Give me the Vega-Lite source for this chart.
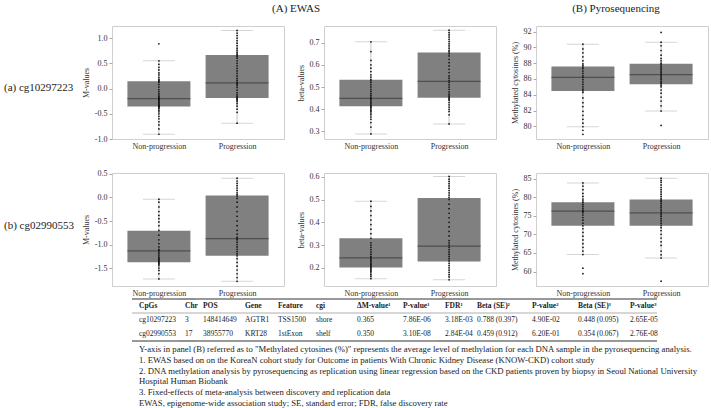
{
"$schema":"https://vega.github.io/schema/vega-lite/v6.json",
"padding":{"left":4,"top":2,"right":0,"bottom":0},
"background":"white",
"config":{
 "font":"Liberation Serif",
 "view":{"stroke":null},
 "axis":{"grid":false,"domain":false,"labelOverlap":false,"labelFontSize":8,"titleFontSize":8,"titleFontWeight":"normal","labelColor":"#333","titleColor":"#333","tickColor":"#aaa","tickSize":3,"labelPadding":2,"titlePadding":4},
 "axisX":{"ticks":false,"labelPadding":3,"labelAngle":0},
 "title":{"fontSize":11,"fontWeight":"normal","color":"#222","frame":"group","offset":12},
 "text":{"color":"#222"}
},
"datasets":{
"box":[
{"p":"a1","g":"Non-progression","lo":-0.906,"q1":-0.354,"med":-0.2,"q3":0.146,"hi":0.553},
{"p":"a1","g":"Progression","lo":-0.687,"q1":-0.187,"med":0.113,"q3":0.667,"hi":1.153},
{"p":"a2","g":"Non-progression","lo":0.289,"q1":0.413,"med":0.449,"q3":0.533,"hi":0.704},
{"p":"a2","g":"Progression","lo":0.334,"q1":0.452,"med":0.526,"q3":0.656,"hi":0.756},
{"p":"a3","g":"Non-progression","lo":79.95,"q1":84.49,"med":86.21,"q3":87.56,"hi":90.4},
{"p":"a3","g":"Progression","lo":81.93,"q1":85.33,"med":86.54,"q3":87.93,"hi":90.65},
{"p":"b1","g":"Non-progression","lo":-1.73,"q1":-1.375,"med":-1.134,"q3":-0.709,"hi":-0.035},
{"p":"b1","g":"Progression","lo":-1.78,"q1":-1.24,"med":-0.872,"q3":0.043,"hi":0.41},
{"p":"b2","g":"Non-progression","lo":0.152,"q1":0.201,"med":0.244,"q3":0.33,"hi":0.493},
{"p":"b2","g":"Progression","lo":0.147,"q1":0.228,"med":0.295,"q3":0.507,"hi":0.602},
{"p":"b3","g":"Non-progression","lo":64.57,"q1":72.28,"med":76.24,"q3":78.66,"hi":83.84},
{"p":"b3","g":"Progression","lo":63.6,"q1":72.28,"med":75.78,"q3":79.35,"hi":85.1}
],
"pts":[
{"p":"a1","g":"Non-progression","v":0.886},{"p":"a1","g":"Non-progression","v":0.55},{"p":"a1","g":"Non-progression","v":0.48},{"p":"a1","g":"Non-progression","v":0.42},{"p":"a1","g":"Non-progression","v":0.37},{"p":"a1","g":"Non-progression","v":0.31},{"p":"a1","g":"Non-progression","v":0.27},{"p":"a1","g":"Non-progression","v":0.22},{"p":"a1","g":"Non-progression","v":0.18},{"p":"a1","g":"Non-progression","v":0.16},{"p":"a1","g":"Non-progression","v":0.14},{"p":"a1","g":"Non-progression","v":0.12},{"p":"a1","g":"Non-progression","v":0.08},{"p":"a1","g":"Non-progression","v":0.03},{"p":"a1","g":"Non-progression","v":-0.02},{"p":"a1","g":"Non-progression","v":-0.06},{"p":"a1","g":"Non-progression","v":-0.1},{"p":"a1","g":"Non-progression","v":-0.13},{"p":"a1","g":"Non-progression","v":-0.16},{"p":"a1","g":"Non-progression","v":-0.18},{"p":"a1","g":"Non-progression","v":-0.2},{"p":"a1","g":"Non-progression","v":-0.21},{"p":"a1","g":"Non-progression","v":-0.23},{"p":"a1","g":"Non-progression","v":-0.25},{"p":"a1","g":"Non-progression","v":-0.27},{"p":"a1","g":"Non-progression","v":-0.29},{"p":"a1","g":"Non-progression","v":-0.31},{"p":"a1","g":"Non-progression","v":-0.33},{"p":"a1","g":"Non-progression","v":-0.34},{"p":"a1","g":"Non-progression","v":-0.35},{"p":"a1","g":"Non-progression","v":-0.36},{"p":"a1","g":"Non-progression","v":-0.38},{"p":"a1","g":"Non-progression","v":-0.4},{"p":"a1","g":"Non-progression","v":-0.43},{"p":"a1","g":"Non-progression","v":-0.46},{"p":"a1","g":"Non-progression","v":-0.5},{"p":"a1","g":"Non-progression","v":-0.55},{"p":"a1","g":"Non-progression","v":-0.6},{"p":"a1","g":"Non-progression","v":-0.66},{"p":"a1","g":"Non-progression","v":-0.72},{"p":"a1","g":"Non-progression","v":-0.8},{"p":"a1","g":"Non-progression","v":-0.906},
{"p":"a1","g":"Progression","v":1.153},{"p":"a1","g":"Progression","v":1.1},{"p":"a1","g":"Progression","v":1.05},{"p":"a1","g":"Progression","v":1.0},{"p":"a1","g":"Progression","v":0.95},{"p":"a1","g":"Progression","v":0.9},{"p":"a1","g":"Progression","v":0.85},{"p":"a1","g":"Progression","v":0.8},{"p":"a1","g":"Progression","v":0.76},{"p":"a1","g":"Progression","v":0.72},{"p":"a1","g":"Progression","v":0.69},{"p":"a1","g":"Progression","v":0.67},{"p":"a1","g":"Progression","v":0.65},{"p":"a1","g":"Progression","v":0.63},{"p":"a1","g":"Progression","v":0.6},{"p":"a1","g":"Progression","v":0.55},{"p":"a1","g":"Progression","v":0.5},{"p":"a1","g":"Progression","v":0.45},{"p":"a1","g":"Progression","v":0.4},{"p":"a1","g":"Progression","v":0.35},{"p":"a1","g":"Progression","v":0.3},{"p":"a1","g":"Progression","v":0.25},{"p":"a1","g":"Progression","v":0.2},{"p":"a1","g":"Progression","v":0.16},{"p":"a1","g":"Progression","v":0.13},{"p":"a1","g":"Progression","v":0.11},{"p":"a1","g":"Progression","v":0.09},{"p":"a1","g":"Progression","v":0.06},{"p":"a1","g":"Progression","v":0.02},{"p":"a1","g":"Progression","v":-0.03},{"p":"a1","g":"Progression","v":-0.08},{"p":"a1","g":"Progression","v":-0.12},{"p":"a1","g":"Progression","v":-0.15},{"p":"a1","g":"Progression","v":-0.17},{"p":"a1","g":"Progression","v":-0.19},{"p":"a1","g":"Progression","v":-0.21},{"p":"a1","g":"Progression","v":-0.23},{"p":"a1","g":"Progression","v":-0.26},{"p":"a1","g":"Progression","v":-0.3},{"p":"a1","g":"Progression","v":-0.35},{"p":"a1","g":"Progression","v":-0.41},{"p":"a1","g":"Progression","v":-0.47},{"p":"a1","g":"Progression","v":-0.687},
{"p":"a2","g":"Non-progression","v":0.704},{"p":"a2","g":"Non-progression","v":0.66},{"p":"a2","g":"Non-progression","v":0.62},{"p":"a2","g":"Non-progression","v":0.6},{"p":"a2","g":"Non-progression","v":0.585},{"p":"a2","g":"Non-progression","v":0.57},{"p":"a2","g":"Non-progression","v":0.555},{"p":"a2","g":"Non-progression","v":0.545},{"p":"a2","g":"Non-progression","v":0.535},{"p":"a2","g":"Non-progression","v":0.528},{"p":"a2","g":"Non-progression","v":0.52},{"p":"a2","g":"Non-progression","v":0.51},{"p":"a2","g":"Non-progression","v":0.5},{"p":"a2","g":"Non-progression","v":0.49},{"p":"a2","g":"Non-progression","v":0.48},{"p":"a2","g":"Non-progression","v":0.47},{"p":"a2","g":"Non-progression","v":0.462},{"p":"a2","g":"Non-progression","v":0.455},{"p":"a2","g":"Non-progression","v":0.449},{"p":"a2","g":"Non-progression","v":0.443},{"p":"a2","g":"Non-progression","v":0.437},{"p":"a2","g":"Non-progression","v":0.43},{"p":"a2","g":"Non-progression","v":0.424},{"p":"a2","g":"Non-progression","v":0.418},{"p":"a2","g":"Non-progression","v":0.413},{"p":"a2","g":"Non-progression","v":0.408},{"p":"a2","g":"Non-progression","v":0.402},{"p":"a2","g":"Non-progression","v":0.396},{"p":"a2","g":"Non-progression","v":0.39},{"p":"a2","g":"Non-progression","v":0.383},{"p":"a2","g":"Non-progression","v":0.375},{"p":"a2","g":"Non-progression","v":0.365},{"p":"a2","g":"Non-progression","v":0.355},{"p":"a2","g":"Non-progression","v":0.34},{"p":"a2","g":"Non-progression","v":0.32},{"p":"a2","g":"Non-progression","v":0.289},
{"p":"a2","g":"Progression","v":0.756},{"p":"a2","g":"Progression","v":0.745},{"p":"a2","g":"Progression","v":0.735},{"p":"a2","g":"Progression","v":0.725},{"p":"a2","g":"Progression","v":0.715},{"p":"a2","g":"Progression","v":0.705},{"p":"a2","g":"Progression","v":0.695},{"p":"a2","g":"Progression","v":0.685},{"p":"a2","g":"Progression","v":0.675},{"p":"a2","g":"Progression","v":0.665},{"p":"a2","g":"Progression","v":0.658},{"p":"a2","g":"Progression","v":0.65},{"p":"a2","g":"Progression","v":0.64},{"p":"a2","g":"Progression","v":0.625},{"p":"a2","g":"Progression","v":0.61},{"p":"a2","g":"Progression","v":0.595},{"p":"a2","g":"Progression","v":0.58},{"p":"a2","g":"Progression","v":0.565},{"p":"a2","g":"Progression","v":0.55},{"p":"a2","g":"Progression","v":0.54},{"p":"a2","g":"Progression","v":0.53},{"p":"a2","g":"Progression","v":0.52},{"p":"a2","g":"Progression","v":0.51},{"p":"a2","g":"Progression","v":0.5},{"p":"a2","g":"Progression","v":0.49},{"p":"a2","g":"Progression","v":0.478},{"p":"a2","g":"Progression","v":0.468},{"p":"a2","g":"Progression","v":0.46},{"p":"a2","g":"Progression","v":0.455},{"p":"a2","g":"Progression","v":0.45},{"p":"a2","g":"Progression","v":0.445},{"p":"a2","g":"Progression","v":0.44},{"p":"a2","g":"Progression","v":0.43},{"p":"a2","g":"Progression","v":0.42},{"p":"a2","g":"Progression","v":0.41},{"p":"a2","g":"Progression","v":0.4},{"p":"a2","g":"Progression","v":0.39},{"p":"a2","g":"Progression","v":0.375},{"p":"a2","g":"Progression","v":0.334},
{"p":"a3","g":"Non-progression","v":90.4},{"p":"a3","g":"Non-progression","v":89.8},{"p":"a3","g":"Non-progression","v":89.3},{"p":"a3","g":"Non-progression","v":88.8},{"p":"a3","g":"Non-progression","v":88.3},{"p":"a3","g":"Non-progression","v":87.9},{"p":"a3","g":"Non-progression","v":87.7},{"p":"a3","g":"Non-progression","v":87.5},{"p":"a3","g":"Non-progression","v":87.3},{"p":"a3","g":"Non-progression","v":87.0},{"p":"a3","g":"Non-progression","v":86.7},{"p":"a3","g":"Non-progression","v":86.4},{"p":"a3","g":"Non-progression","v":86.2},{"p":"a3","g":"Non-progression","v":85.9},{"p":"a3","g":"Non-progression","v":85.6},{"p":"a3","g":"Non-progression","v":85.3},{"p":"a3","g":"Non-progression","v":85.0},{"p":"a3","g":"Non-progression","v":84.7},{"p":"a3","g":"Non-progression","v":84.5},{"p":"a3","g":"Non-progression","v":84.3},{"p":"a3","g":"Non-progression","v":83.6},{"p":"a3","g":"Non-progression","v":83.0},{"p":"a3","g":"Non-progression","v":82.5},{"p":"a3","g":"Non-progression","v":81.9},{"p":"a3","g":"Non-progression","v":81.4},{"p":"a3","g":"Non-progression","v":80.9},{"p":"a3","g":"Non-progression","v":80.4},{"p":"a3","g":"Non-progression","v":79.95},{"p":"a3","g":"Non-progression","v":79.5},{"p":"a3","g":"Non-progression","v":79.0},
{"p":"a3","g":"Progression","v":91.88},{"p":"a3","g":"Progression","v":90.65},{"p":"a3","g":"Progression","v":90.2},{"p":"a3","g":"Progression","v":89.6},{"p":"a3","g":"Progression","v":89.0},{"p":"a3","g":"Progression","v":88.6},{"p":"a3","g":"Progression","v":88.3},{"p":"a3","g":"Progression","v":88.0},{"p":"a3","g":"Progression","v":87.8},{"p":"a3","g":"Progression","v":87.6},{"p":"a3","g":"Progression","v":87.4},{"p":"a3","g":"Progression","v":87.2},{"p":"a3","g":"Progression","v":87.0},{"p":"a3","g":"Progression","v":86.8},{"p":"a3","g":"Progression","v":86.6},{"p":"a3","g":"Progression","v":86.5},{"p":"a3","g":"Progression","v":86.3},{"p":"a3","g":"Progression","v":86.1},{"p":"a3","g":"Progression","v":85.9},{"p":"a3","g":"Progression","v":85.7},{"p":"a3","g":"Progression","v":85.5},{"p":"a3","g":"Progression","v":85.4},{"p":"a3","g":"Progression","v":85.2},{"p":"a3","g":"Progression","v":85.0},{"p":"a3","g":"Progression","v":84.6},{"p":"a3","g":"Progression","v":84.2},{"p":"a3","g":"Progression","v":83.7},{"p":"a3","g":"Progression","v":83.2},{"p":"a3","g":"Progression","v":82.6},{"p":"a3","g":"Progression","v":81.93},{"p":"a3","g":"Progression","v":80.12},
{"p":"b1","g":"Non-progression","v":-0.035},{"p":"b1","g":"Non-progression","v":-0.1},{"p":"b1","g":"Non-progression","v":-0.2},{"p":"b1","g":"Non-progression","v":-0.3},{"p":"b1","g":"Non-progression","v":-0.38},{"p":"b1","g":"Non-progression","v":-0.45},{"p":"b1","g":"Non-progression","v":-0.52},{"p":"b1","g":"Non-progression","v":-0.6},{"p":"b1","g":"Non-progression","v":-0.7},{"p":"b1","g":"Non-progression","v":-0.8},{"p":"b1","g":"Non-progression","v":-0.9},{"p":"b1","g":"Non-progression","v":-0.98},{"p":"b1","g":"Non-progression","v":-1.05},{"p":"b1","g":"Non-progression","v":-1.1},{"p":"b1","g":"Non-progression","v":-1.13},{"p":"b1","g":"Non-progression","v":-1.16},{"p":"b1","g":"Non-progression","v":-1.2},{"p":"b1","g":"Non-progression","v":-1.24},{"p":"b1","g":"Non-progression","v":-1.27},{"p":"b1","g":"Non-progression","v":-1.3},{"p":"b1","g":"Non-progression","v":-1.32},{"p":"b1","g":"Non-progression","v":-1.34},{"p":"b1","g":"Non-progression","v":-1.36},{"p":"b1","g":"Non-progression","v":-1.38},{"p":"b1","g":"Non-progression","v":-1.4},{"p":"b1","g":"Non-progression","v":-1.42},{"p":"b1","g":"Non-progression","v":-1.45},{"p":"b1","g":"Non-progression","v":-1.5},{"p":"b1","g":"Non-progression","v":-1.55},{"p":"b1","g":"Non-progression","v":-1.62},{"p":"b1","g":"Non-progression","v":-1.73},
{"p":"b1","g":"Progression","v":0.41},{"p":"b1","g":"Progression","v":0.35},{"p":"b1","g":"Progression","v":0.3},{"p":"b1","g":"Progression","v":0.25},{"p":"b1","g":"Progression","v":0.2},{"p":"b1","g":"Progression","v":0.15},{"p":"b1","g":"Progression","v":0.1},{"p":"b1","g":"Progression","v":0.06},{"p":"b1","g":"Progression","v":0.03},{"p":"b1","g":"Progression","v":-0.02},{"p":"b1","g":"Progression","v":-0.1},{"p":"b1","g":"Progression","v":-0.2},{"p":"b1","g":"Progression","v":-0.3},{"p":"b1","g":"Progression","v":-0.4},{"p":"b1","g":"Progression","v":-0.5},{"p":"b1","g":"Progression","v":-0.6},{"p":"b1","g":"Progression","v":-0.7},{"p":"b1","g":"Progression","v":-0.78},{"p":"b1","g":"Progression","v":-0.84},{"p":"b1","g":"Progression","v":-0.87},{"p":"b1","g":"Progression","v":-0.9},{"p":"b1","g":"Progression","v":-0.95},{"p":"b1","g":"Progression","v":-1.0},{"p":"b1","g":"Progression","v":-1.05},{"p":"b1","g":"Progression","v":-1.1},{"p":"b1","g":"Progression","v":-1.15},{"p":"b1","g":"Progression","v":-1.2},{"p":"b1","g":"Progression","v":-1.24},{"p":"b1","g":"Progression","v":-1.3},{"p":"b1","g":"Progression","v":-1.38},{"p":"b1","g":"Progression","v":-1.46},{"p":"b1","g":"Progression","v":-1.54},{"p":"b1","g":"Progression","v":-1.62},{"p":"b1","g":"Progression","v":-1.7},{"p":"b1","g":"Progression","v":-1.78},
{"p":"b2","g":"Non-progression","v":0.493},{"p":"b2","g":"Non-progression","v":0.47},{"p":"b2","g":"Non-progression","v":0.45},{"p":"b2","g":"Non-progression","v":0.43},{"p":"b2","g":"Non-progression","v":0.41},{"p":"b2","g":"Non-progression","v":0.39},{"p":"b2","g":"Non-progression","v":0.37},{"p":"b2","g":"Non-progression","v":0.35},{"p":"b2","g":"Non-progression","v":0.33},{"p":"b2","g":"Non-progression","v":0.31},{"p":"b2","g":"Non-progression","v":0.3},{"p":"b2","g":"Non-progression","v":0.29},{"p":"b2","g":"Non-progression","v":0.28},{"p":"b2","g":"Non-progression","v":0.27},{"p":"b2","g":"Non-progression","v":0.26},{"p":"b2","g":"Non-progression","v":0.25},{"p":"b2","g":"Non-progression","v":0.244},{"p":"b2","g":"Non-progression","v":0.238},{"p":"b2","g":"Non-progression","v":0.232},{"p":"b2","g":"Non-progression","v":0.226},{"p":"b2","g":"Non-progression","v":0.22},{"p":"b2","g":"Non-progression","v":0.215},{"p":"b2","g":"Non-progression","v":0.21},{"p":"b2","g":"Non-progression","v":0.205},{"p":"b2","g":"Non-progression","v":0.2},{"p":"b2","g":"Non-progression","v":0.195},{"p":"b2","g":"Non-progression","v":0.19},{"p":"b2","g":"Non-progression","v":0.185},{"p":"b2","g":"Non-progression","v":0.178},{"p":"b2","g":"Non-progression","v":0.17},{"p":"b2","g":"Non-progression","v":0.162},{"p":"b2","g":"Non-progression","v":0.152},
{"p":"b2","g":"Progression","v":0.602},{"p":"b2","g":"Progression","v":0.59},{"p":"b2","g":"Progression","v":0.58},{"p":"b2","g":"Progression","v":0.57},{"p":"b2","g":"Progression","v":0.56},{"p":"b2","g":"Progression","v":0.55},{"p":"b2","g":"Progression","v":0.54},{"p":"b2","g":"Progression","v":0.53},{"p":"b2","g":"Progression","v":0.52},{"p":"b2","g":"Progression","v":0.51},{"p":"b2","g":"Progression","v":0.5},{"p":"b2","g":"Progression","v":0.48},{"p":"b2","g":"Progression","v":0.46},{"p":"b2","g":"Progression","v":0.44},{"p":"b2","g":"Progression","v":0.42},{"p":"b2","g":"Progression","v":0.4},{"p":"b2","g":"Progression","v":0.38},{"p":"b2","g":"Progression","v":0.36},{"p":"b2","g":"Progression","v":0.34},{"p":"b2","g":"Progression","v":0.32},{"p":"b2","g":"Progression","v":0.31},{"p":"b2","g":"Progression","v":0.3},{"p":"b2","g":"Progression","v":0.29},{"p":"b2","g":"Progression","v":0.28},{"p":"b2","g":"Progression","v":0.27},{"p":"b2","g":"Progression","v":0.26},{"p":"b2","g":"Progression","v":0.25},{"p":"b2","g":"Progression","v":0.24},{"p":"b2","g":"Progression","v":0.23},{"p":"b2","g":"Progression","v":0.22},{"p":"b2","g":"Progression","v":0.21},{"p":"b2","g":"Progression","v":0.2},{"p":"b2","g":"Progression","v":0.19},{"p":"b2","g":"Progression","v":0.18},{"p":"b2","g":"Progression","v":0.17},{"p":"b2","g":"Progression","v":0.16},{"p":"b2","g":"Progression","v":0.147},
{"p":"b3","g":"Non-progression","v":83.84},{"p":"b3","g":"Non-progression","v":83.0},{"p":"b3","g":"Non-progression","v":82.0},{"p":"b3","g":"Non-progression","v":81.0},{"p":"b3","g":"Non-progression","v":80.2},{"p":"b3","g":"Non-progression","v":79.5},{"p":"b3","g":"Non-progression","v":79.0},{"p":"b3","g":"Non-progression","v":78.5},{"p":"b3","g":"Non-progression","v":78.0},{"p":"b3","g":"Non-progression","v":77.5},{"p":"b3","g":"Non-progression","v":77.0},{"p":"b3","g":"Non-progression","v":76.5},{"p":"b3","g":"Non-progression","v":76.2},{"p":"b3","g":"Non-progression","v":75.8},{"p":"b3","g":"Non-progression","v":75.2},{"p":"b3","g":"Non-progression","v":74.5},{"p":"b3","g":"Non-progression","v":73.8},{"p":"b3","g":"Non-progression","v":73.0},{"p":"b3","g":"Non-progression","v":72.3},{"p":"b3","g":"Non-progression","v":71.5},{"p":"b3","g":"Non-progression","v":70.5},{"p":"b3","g":"Non-progression","v":69.5},{"p":"b3","g":"Non-progression","v":68.5},{"p":"b3","g":"Non-progression","v":67.5},{"p":"b3","g":"Non-progression","v":66.5},{"p":"b3","g":"Non-progression","v":65.5},{"p":"b3","g":"Non-progression","v":64.57},{"p":"b3","g":"Non-progression","v":60.9},{"p":"b3","g":"Non-progression","v":59.4},
{"p":"b3","g":"Progression","v":85.1},{"p":"b3","g":"Progression","v":84.5},{"p":"b3","g":"Progression","v":84.0},{"p":"b3","g":"Progression","v":83.3},{"p":"b3","g":"Progression","v":82.6},{"p":"b3","g":"Progression","v":82.0},{"p":"b3","g":"Progression","v":81.4},{"p":"b3","g":"Progression","v":80.8},{"p":"b3","g":"Progression","v":80.2},{"p":"b3","g":"Progression","v":79.6},{"p":"b3","g":"Progression","v":79.2},{"p":"b3","g":"Progression","v":78.8},{"p":"b3","g":"Progression","v":78.3},{"p":"b3","g":"Progression","v":77.8},{"p":"b3","g":"Progression","v":77.3},{"p":"b3","g":"Progression","v":76.8},{"p":"b3","g":"Progression","v":76.3},{"p":"b3","g":"Progression","v":75.8},{"p":"b3","g":"Progression","v":75.3},{"p":"b3","g":"Progression","v":74.8},{"p":"b3","g":"Progression","v":74.2},{"p":"b3","g":"Progression","v":73.6},{"p":"b3","g":"Progression","v":73.0},{"p":"b3","g":"Progression","v":72.4},{"p":"b3","g":"Progression","v":71.8},{"p":"b3","g":"Progression","v":71.0},{"p":"b3","g":"Progression","v":70.0},{"p":"b3","g":"Progression","v":69.0},{"p":"b3","g":"Progression","v":68.0},{"p":"b3","g":"Progression","v":67.0},{"p":"b3","g":"Progression","v":65.5},{"p":"b3","g":"Progression","v":64.5},{"p":"b3","g":"Progression","v":63.6},{"p":"b3","g":"Progression","v":57.4}
],
"tbl":[
{"c":1,"r":"h","t":"CpGs"},{"c":1,"r":"1","t":"cg10297223"},{"c":1,"r":"2","t":"cg02990553"},
{"c":2,"r":"h","t":"Chr"},{"c":2,"r":"1","t":"3"},{"c":2,"r":"2","t":"17"},
{"c":3,"r":"h","t":"POS"},{"c":3,"r":"1","t":"148414649"},{"c":3,"r":"2","t":"38955770"},
{"c":4,"r":"h","t":"Gene"},{"c":4,"r":"1","t":"AGTR1"},{"c":4,"r":"2","t":"KRT28"},
{"c":5,"r":"h","t":"Feature"},{"c":5,"r":"1","t":"TSS1500"},{"c":5,"r":"2","t":"1stExon"},
{"c":6,"r":"h","t":"cgi"},{"c":6,"r":"1","t":"shore"},{"c":6,"r":"2","t":"shelf"},
{"c":7,"r":"h","t":"ΔM-value¹"},{"c":7,"r":"1","t":"0.365"},{"c":7,"r":"2","t":"0.350"},
{"c":8,"r":"h","t":"P-value¹"},{"c":8,"r":"1","t":"7.86E-06"},{"c":8,"r":"2","t":"3.10E-08"},
{"c":9,"r":"h","t":"FDR¹"},{"c":9,"r":"1","t":"3.18E-03"},{"c":9,"r":"2","t":"2.84E-04"},
{"c":10,"r":"h","t":"Beta (SE)²"},{"c":10,"r":"1","t":"0.788 (0.397)"},{"c":10,"r":"2","t":"0.459 (0.912)"},
{"c":11,"r":"h","t":"P-value²"},{"c":11,"r":"1","t":"4.90E-02"},{"c":11,"r":"2","t":"6.20E-01"},
{"c":12,"r":"h","t":"Beta (SE)³"},{"c":12,"r":"1","t":"0.448 (0.095)"},{"c":12,"r":"2","t":"0.354 (0.067)"},
{"c":13,"r":"h","t":"P-value³"},{"c":13,"r":"1","t":"2.65E-05"},{"c":13,"r":"2","t":"2.76E-08"}
]
},
"spacing":18,
"vconcat":[
 {"hconcat":[
  {"width":68,"height":113,"data":{"values":[{"t":"(a) cg10297223"}]},"mark":{"type":"text","align":"left","fontSize":11,"dy":5},"encoding":{"x":{"datum":0,"type":"quantitative","scale":{"domain":[0,1]},"axis":null},"text":{"field":"t"}}},
  {"width":172,"height":113,"view":{"stroke":"#cfcfcf"},"title":{"text":"(A) EWAS","anchor":"end","dx":36},"data":{"name":"box"},"transform":[{"filter":"datum.p=='a1'"}],
    "encoding":{"x":{"field":"g","type":"nominal","sort":["Non-progression","Progression"],"scale":{"type":"point","padding":0.6},"axis":{"title":null}}},
    "layer":[
     {"mark":{"type":"rule","color":"#c4c4c4"},"encoding":{"y":{"field":"lo","type":"quantitative","title":"M-values","scale":{"domain":[-1,1.24],"nice":false,"zero":false},"axis":{"values":[-1,-0.5,0,0.5,1],"tickCount":20,"format":".1f","labelExpr":"replace(datum.label,'\u2212','-')"}},"y2":{"field":"hi"}}},
     {"mark":{"type":"bar","color":"#808080","size":63},"encoding":{"y":{"field":"q1","type":"quantitative","title":"M-values","scale":{"domain":[-1,1.24],"nice":false,"zero":false}},"y2":{"field":"q3"}}},
     {"mark":{"type":"tick","color":"#c4c4c4","size":32,"thickness":1},"encoding":{"y":{"field":"lo","type":"quantitative","title":"M-values","scale":{"domain":[-1,1.24],"nice":false,"zero":false}}}},
     {"mark":{"type":"tick","color":"#c4c4c4","size":32,"thickness":1},"encoding":{"y":{"field":"hi","type":"quantitative","title":"M-values","scale":{"domain":[-1,1.24],"nice":false,"zero":false}}}},
     {"mark":{"type":"tick","color":"#3a3a3a","size":63,"thickness":1.3},"encoding":{"y":{"field":"med","type":"quantitative","title":"M-values","scale":{"domain":[-1,1.24],"nice":false,"zero":false}}}},
     {"data":{"name":"pts"},"transform":[{"filter":"datum.p=='a1'"}],"mark":{"type":"circle","size":3,"color":"#111","opacity":1},"encoding":{"y":{"field":"v","type":"quantitative","title":"M-values","scale":{"domain":[-1,1.24],"nice":false,"zero":false}}}}
    ]},
  {"width":172,"height":113,"view":{"stroke":"#cfcfcf"},"data":{"name":"box"},"transform":[{"filter":"datum.p=='a2'"}],
    "encoding":{"x":{"field":"g","type":"nominal","sort":["Non-progression","Progression"],"scale":{"type":"point","padding":0.6},"axis":{"title":null}}},
    "layer":[
     {"mark":{"type":"rule","color":"#c4c4c4"},"encoding":{"y":{"field":"lo","type":"quantitative","title":"beta-values","scale":{"domain":[0.266,0.775],"nice":false,"zero":false},"axis":{"values":[0.3,0.4,0.5,0.6,0.7],"tickCount":20,"format":".1f"}},"y2":{"field":"hi"}}},
     {"mark":{"type":"bar","color":"#808080","size":63},"encoding":{"y":{"field":"q1","type":"quantitative","title":"beta-values","scale":{"domain":[0.266,0.775],"nice":false,"zero":false}},"y2":{"field":"q3"}}},
     {"mark":{"type":"tick","color":"#c4c4c4","size":32,"thickness":1},"encoding":{"y":{"field":"lo","type":"quantitative","title":"beta-values","scale":{"domain":[0.266,0.775],"nice":false,"zero":false}}}},
     {"mark":{"type":"tick","color":"#c4c4c4","size":32,"thickness":1},"encoding":{"y":{"field":"hi","type":"quantitative","title":"beta-values","scale":{"domain":[0.266,0.775],"nice":false,"zero":false}}}},
     {"mark":{"type":"tick","color":"#3a3a3a","size":63,"thickness":1.3},"encoding":{"y":{"field":"med","type":"quantitative","title":"beta-values","scale":{"domain":[0.266,0.775],"nice":false,"zero":false}}}},
     {"data":{"name":"pts"},"transform":[{"filter":"datum.p=='a2'"}],"mark":{"type":"circle","size":3,"color":"#111","opacity":1},"encoding":{"y":{"field":"v","type":"quantitative","title":"beta-values","scale":{"domain":[0.266,0.775],"nice":false,"zero":false}}}}
    ]},
  {"width":172,"height":113,"view":{"stroke":"#cfcfcf"},"title":{"text":"(B) Pyrosequencing","anchor":"middle","dx":-6},"data":{"name":"box"},"transform":[{"filter":"datum.p=='a3'"}],
    "encoding":{"x":{"field":"g","type":"nominal","sort":["Non-progression","Progression"],"scale":{"type":"point","padding":0.6},"axis":{"title":null}}},
    "layer":[
     {"mark":{"type":"rule","color":"#c4c4c4"},"encoding":{"y":{"field":"lo","type":"quantitative","title":"Methylated cytosines (%)","scale":{"domain":[78.4,92.7],"nice":false,"zero":false},"axis":{"values":[80,82,84,86,88,90,92],"tickCount":20,"format":"d"}},"y2":{"field":"hi"}}},
     {"mark":{"type":"bar","color":"#808080","size":63},"encoding":{"y":{"field":"q1","type":"quantitative","title":"Methylated cytosines (%)","scale":{"domain":[78.4,92.7],"nice":false,"zero":false}},"y2":{"field":"q3"}}},
     {"mark":{"type":"tick","color":"#c4c4c4","size":32,"thickness":1},"encoding":{"y":{"field":"lo","type":"quantitative","title":"Methylated cytosines (%)","scale":{"domain":[78.4,92.7],"nice":false,"zero":false}}}},
     {"mark":{"type":"tick","color":"#c4c4c4","size":32,"thickness":1},"encoding":{"y":{"field":"hi","type":"quantitative","title":"Methylated cytosines (%)","scale":{"domain":[78.4,92.7],"nice":false,"zero":false}}}},
     {"mark":{"type":"tick","color":"#3a3a3a","size":63,"thickness":1.3},"encoding":{"y":{"field":"med","type":"quantitative","title":"Methylated cytosines (%)","scale":{"domain":[78.4,92.7],"nice":false,"zero":false}}}},
     {"data":{"name":"pts"},"transform":[{"filter":"datum.p=='a3'"}],"mark":{"type":"circle","size":3,"color":"#111","opacity":1},"encoding":{"y":{"field":"v","type":"quantitative","title":"Methylated cytosines (%)","scale":{"domain":[78.4,92.7],"nice":false,"zero":false}}}}
    ]}
 ],"spacing":40,"bounds":"flush"},
 {"spacing":0,"vconcat":[
 {"hconcat":[
  {"width":68,"height":113,"data":{"values":[{"t":"(b) cg02990553"}]},"mark":{"type":"text","align":"left","fontSize":11,"dy":-4},"encoding":{"x":{"datum":0,"type":"quantitative","scale":{"domain":[0,1]},"axis":null},"text":{"field":"t"}}},
  {"width":172,"height":113,"view":{"stroke":"#cfcfcf"},"data":{"name":"box"},"transform":[{"filter":"datum.p=='b1'"}],
    "encoding":{"x":{"field":"g","type":"nominal","sort":["Non-progression","Progression"],"scale":{"type":"point","padding":0.6},"axis":{"title":null}}},
    "layer":[
     {"mark":{"type":"rule","color":"#c4c4c4"},"encoding":{"y":{"field":"lo","type":"quantitative","title":"M-values","scale":{"domain":[-1.88,0.52],"nice":false,"zero":false},"axis":{"values":[-1.5,-1,-0.5,0,0.5],"tickCount":20,"format":".1f","labelExpr":"replace(datum.label,'\u2212','-')"}},"y2":{"field":"hi"}}},
     {"mark":{"type":"bar","color":"#808080","size":63},"encoding":{"y":{"field":"q1","type":"quantitative","title":"M-values","scale":{"domain":[-1.88,0.52],"nice":false,"zero":false}},"y2":{"field":"q3"}}},
     {"mark":{"type":"tick","color":"#c4c4c4","size":32,"thickness":1},"encoding":{"y":{"field":"lo","type":"quantitative","title":"M-values","scale":{"domain":[-1.88,0.52],"nice":false,"zero":false}}}},
     {"mark":{"type":"tick","color":"#c4c4c4","size":32,"thickness":1},"encoding":{"y":{"field":"hi","type":"quantitative","title":"M-values","scale":{"domain":[-1.88,0.52],"nice":false,"zero":false}}}},
     {"mark":{"type":"tick","color":"#3a3a3a","size":63,"thickness":1.3},"encoding":{"y":{"field":"med","type":"quantitative","title":"M-values","scale":{"domain":[-1.88,0.52],"nice":false,"zero":false}}}},
     {"data":{"name":"pts"},"transform":[{"filter":"datum.p=='b1'"}],"mark":{"type":"circle","size":3,"color":"#111","opacity":1},"encoding":{"y":{"field":"v","type":"quantitative","title":"M-values","scale":{"domain":[-1.88,0.52],"nice":false,"zero":false}}}}
    ]},
  {"width":172,"height":113,"view":{"stroke":"#cfcfcf"},"data":{"name":"box"},"transform":[{"filter":"datum.p=='b2'"}],
    "encoding":{"x":{"field":"g","type":"nominal","sort":["Non-progression","Progression"],"scale":{"type":"point","padding":0.6},"axis":{"title":null}}},
    "layer":[
     {"mark":{"type":"rule","color":"#c4c4c4"},"encoding":{"y":{"field":"lo","type":"quantitative","title":"beta-values","scale":{"domain":[0.12,0.617],"nice":false,"zero":false},"axis":{"values":[0.2,0.3,0.4,0.5,0.6],"tickCount":20,"format":".1f"}},"y2":{"field":"hi"}}},
     {"mark":{"type":"bar","color":"#808080","size":63},"encoding":{"y":{"field":"q1","type":"quantitative","title":"beta-values","scale":{"domain":[0.12,0.617],"nice":false,"zero":false}},"y2":{"field":"q3"}}},
     {"mark":{"type":"tick","color":"#c4c4c4","size":32,"thickness":1},"encoding":{"y":{"field":"lo","type":"quantitative","title":"beta-values","scale":{"domain":[0.12,0.617],"nice":false,"zero":false}}}},
     {"mark":{"type":"tick","color":"#c4c4c4","size":32,"thickness":1},"encoding":{"y":{"field":"hi","type":"quantitative","title":"beta-values","scale":{"domain":[0.12,0.617],"nice":false,"zero":false}}}},
     {"mark":{"type":"tick","color":"#3a3a3a","size":63,"thickness":1.3},"encoding":{"y":{"field":"med","type":"quantitative","title":"beta-values","scale":{"domain":[0.12,0.617],"nice":false,"zero":false}}}},
     {"data":{"name":"pts"},"transform":[{"filter":"datum.p=='b2'"}],"mark":{"type":"circle","size":3,"color":"#111","opacity":1},"encoding":{"y":{"field":"v","type":"quantitative","title":"beta-values","scale":{"domain":[0.12,0.617],"nice":false,"zero":false}}}}
    ]},
  {"width":172,"height":113,"view":{"stroke":"#cfcfcf"},"data":{"name":"box"},"transform":[{"filter":"datum.p=='b3'"}],
    "encoding":{"x":{"field":"g","type":"nominal","sort":["Non-progression","Progression"],"scale":{"type":"point","padding":0.6},"axis":{"title":null}}},
    "layer":[
     {"mark":{"type":"rule","color":"#c4c4c4"},"encoding":{"y":{"field":"lo","type":"quantitative","title":"Methylated cytosines (%)","scale":{"domain":[56.1,86.5],"nice":false,"zero":false},"axis":{"values":[60,65,70,75,80,85],"tickCount":20,"format":"d"}},"y2":{"field":"hi"}}},
     {"mark":{"type":"bar","color":"#808080","size":63},"encoding":{"y":{"field":"q1","type":"quantitative","title":"Methylated cytosines (%)","scale":{"domain":[56.1,86.5],"nice":false,"zero":false}},"y2":{"field":"q3"}}},
     {"mark":{"type":"tick","color":"#c4c4c4","size":32,"thickness":1},"encoding":{"y":{"field":"lo","type":"quantitative","title":"Methylated cytosines (%)","scale":{"domain":[56.1,86.5],"nice":false,"zero":false}}}},
     {"mark":{"type":"tick","color":"#c4c4c4","size":32,"thickness":1},"encoding":{"y":{"field":"hi","type":"quantitative","title":"Methylated cytosines (%)","scale":{"domain":[56.1,86.5],"nice":false,"zero":false}}}},
     {"mark":{"type":"tick","color":"#3a3a3a","size":63,"thickness":1.3},"encoding":{"y":{"field":"med","type":"quantitative","title":"Methylated cytosines (%)","scale":{"domain":[56.1,86.5],"nice":false,"zero":false}}}},
     {"data":{"name":"pts"},"transform":[{"filter":"datum.p=='b3'"}],"mark":{"type":"circle","size":3,"color":"#111","opacity":1},"encoding":{"y":{"field":"v","type":"quantitative","title":"Methylated cytosines (%)","scale":{"domain":[56.1,86.5],"nice":false,"zero":false}}}}
    ]}
 ],"spacing":40,"bounds":"flush"},
 {"spacing":2,"vconcat":[
  {"data":{"name":"tbl"},"spacing":0,"bounds":"flush","hconcat":[
   {"width":128,"height":42,"view":{"fill":"white"},"data":{"values":[]},"mark":"point"},
   {"width":46,"height":42,"transform":[{"filter":"datum.c==1"}],"encoding":{"x":{"datum":0,"type":"quantitative","scale":{"domain":[0,1]},"axis":null}},"layer":[
    {"data":{"values":[{}]},"mark":{"type":"rule","strokeWidth":1.6,"color":"#777"},"encoding":{"x2":{"datum":1},"y":{"datum":"h","type":"nominal","bandPosition":0,"scale":{"type":"band","domain":["h","1","2"],"paddingInner":0,"paddingOuter":0},"axis":null}}},
    {"data":{"values":[{}]},"mark":{"type":"rule","strokeWidth":0.8,"color":"#999"},"encoding":{"x2":{"datum":1},"y":{"datum":"1","type":"nominal","bandPosition":0,"scale":{"type":"band","domain":["h","1","2"],"paddingInner":0,"paddingOuter":0},"axis":null}}},
    {"data":{"values":[{}]},"mark":{"type":"rule","strokeWidth":1.6,"color":"#777"},"encoding":{"x2":{"datum":1},"y":{"datum":"2","type":"nominal","bandPosition":1,"scale":{"type":"band","domain":["h","1","2"],"paddingInner":0,"paddingOuter":0},"axis":null}}},
    {"transform":[{"filter":"datum.r=='h'"}],"mark":{"type":"text","align":"left","dx":7,"fontSize":7.5,"fontWeight":"bold"},"encoding":{"y":{"field":"r","type":"nominal","scale":{"type":"band","domain":["h","1","2"],"paddingInner":0,"paddingOuter":0},"axis":null},"text":{"field":"t"}}},
    {"transform":[{"filter":"datum.r!='h'"}],"mark":{"type":"text","align":"left","dx":7,"fontSize":7.5},"encoding":{"y":{"field":"r","type":"nominal","scale":{"type":"band","domain":["h","1","2"],"paddingInner":0,"paddingOuter":0},"axis":null},"text":{"field":"t"}}}
   ]},
   {"width":18,"height":42,"transform":[{"filter":"datum.c==2"}],"encoding":{"x":{"datum":0,"type":"quantitative","scale":{"domain":[0,1]},"axis":null}},"layer":[
    {"data":{"values":[{}]},"mark":{"type":"rule","strokeWidth":1.6,"color":"#777"},"encoding":{"x2":{"datum":1},"y":{"datum":"h","type":"nominal","bandPosition":0,"scale":{"type":"band","domain":["h","1","2"],"paddingInner":0,"paddingOuter":0},"axis":null}}},
    {"data":{"values":[{}]},"mark":{"type":"rule","strokeWidth":0.8,"color":"#999"},"encoding":{"x2":{"datum":1},"y":{"datum":"1","type":"nominal","bandPosition":0,"scale":{"type":"band","domain":["h","1","2"],"paddingInner":0,"paddingOuter":0},"axis":null}}},
    {"data":{"values":[{}]},"mark":{"type":"rule","strokeWidth":1.6,"color":"#777"},"encoding":{"x2":{"datum":1},"y":{"datum":"2","type":"nominal","bandPosition":1,"scale":{"type":"band","domain":["h","1","2"],"paddingInner":0,"paddingOuter":0},"axis":null}}},
    {"transform":[{"filter":"datum.r=='h'"}],"mark":{"type":"text","align":"left","dx":7,"fontSize":7.5,"fontWeight":"bold"},"encoding":{"y":{"field":"r","type":"nominal","scale":{"type":"band","domain":["h","1","2"],"paddingInner":0,"paddingOuter":0},"axis":null},"text":{"field":"t"}}},
    {"transform":[{"filter":"datum.r!='h'"}],"mark":{"type":"text","align":"left","dx":7,"fontSize":7.5},"encoding":{"y":{"field":"r","type":"nominal","scale":{"type":"band","domain":["h","1","2"],"paddingInner":0,"paddingOuter":0},"axis":null},"text":{"field":"t"}}}
   ]},
   {"width":42,"height":42,"transform":[{"filter":"datum.c==3"}],"encoding":{"x":{"datum":0,"type":"quantitative","scale":{"domain":[0,1]},"axis":null}},"layer":[
    {"data":{"values":[{}]},"mark":{"type":"rule","strokeWidth":1.6,"color":"#777"},"encoding":{"x2":{"datum":1},"y":{"datum":"h","type":"nominal","bandPosition":0,"scale":{"type":"band","domain":["h","1","2"],"paddingInner":0,"paddingOuter":0},"axis":null}}},
    {"data":{"values":[{}]},"mark":{"type":"rule","strokeWidth":0.8,"color":"#999"},"encoding":{"x2":{"datum":1},"y":{"datum":"1","type":"nominal","bandPosition":0,"scale":{"type":"band","domain":["h","1","2"],"paddingInner":0,"paddingOuter":0},"axis":null}}},
    {"data":{"values":[{}]},"mark":{"type":"rule","strokeWidth":1.6,"color":"#777"},"encoding":{"x2":{"datum":1},"y":{"datum":"2","type":"nominal","bandPosition":1,"scale":{"type":"band","domain":["h","1","2"],"paddingInner":0,"paddingOuter":0},"axis":null}}},
    {"transform":[{"filter":"datum.r=='h'"}],"mark":{"type":"text","align":"left","dx":7,"fontSize":7.5,"fontWeight":"bold"},"encoding":{"y":{"field":"r","type":"nominal","scale":{"type":"band","domain":["h","1","2"],"paddingInner":0,"paddingOuter":0},"axis":null},"text":{"field":"t"}}},
    {"transform":[{"filter":"datum.r!='h'"}],"mark":{"type":"text","align":"left","dx":7,"fontSize":7.5},"encoding":{"y":{"field":"r","type":"nominal","scale":{"type":"band","domain":["h","1","2"],"paddingInner":0,"paddingOuter":0},"axis":null},"text":{"field":"t"}}}
   ]},
   {"width":33,"height":42,"transform":[{"filter":"datum.c==4"}],"encoding":{"x":{"datum":0,"type":"quantitative","scale":{"domain":[0,1]},"axis":null}},"layer":[
    {"data":{"values":[{}]},"mark":{"type":"rule","strokeWidth":1.6,"color":"#777"},"encoding":{"x2":{"datum":1},"y":{"datum":"h","type":"nominal","bandPosition":0,"scale":{"type":"band","domain":["h","1","2"],"paddingInner":0,"paddingOuter":0},"axis":null}}},
    {"data":{"values":[{}]},"mark":{"type":"rule","strokeWidth":0.8,"color":"#999"},"encoding":{"x2":{"datum":1},"y":{"datum":"1","type":"nominal","bandPosition":0,"scale":{"type":"band","domain":["h","1","2"],"paddingInner":0,"paddingOuter":0},"axis":null}}},
    {"data":{"values":[{}]},"mark":{"type":"rule","strokeWidth":1.6,"color":"#777"},"encoding":{"x2":{"datum":1},"y":{"datum":"2","type":"nominal","bandPosition":1,"scale":{"type":"band","domain":["h","1","2"],"paddingInner":0,"paddingOuter":0},"axis":null}}},
    {"transform":[{"filter":"datum.r=='h'"}],"mark":{"type":"text","align":"left","dx":7,"fontSize":7.5,"fontWeight":"bold"},"encoding":{"y":{"field":"r","type":"nominal","scale":{"type":"band","domain":["h","1","2"],"paddingInner":0,"paddingOuter":0},"axis":null},"text":{"field":"t"}}},
    {"transform":[{"filter":"datum.r!='h'"}],"mark":{"type":"text","align":"left","dx":7,"fontSize":7.5},"encoding":{"y":{"field":"r","type":"nominal","scale":{"type":"band","domain":["h","1","2"],"paddingInner":0,"paddingOuter":0},"axis":null},"text":{"field":"t"}}}
   ]},
   {"width":38,"height":42,"transform":[{"filter":"datum.c==5"}],"encoding":{"x":{"datum":0,"type":"quantitative","scale":{"domain":[0,1]},"axis":null}},"layer":[
    {"data":{"values":[{}]},"mark":{"type":"rule","strokeWidth":1.6,"color":"#777"},"encoding":{"x2":{"datum":1},"y":{"datum":"h","type":"nominal","bandPosition":0,"scale":{"type":"band","domain":["h","1","2"],"paddingInner":0,"paddingOuter":0},"axis":null}}},
    {"data":{"values":[{}]},"mark":{"type":"rule","strokeWidth":0.8,"color":"#999"},"encoding":{"x2":{"datum":1},"y":{"datum":"1","type":"nominal","bandPosition":0,"scale":{"type":"band","domain":["h","1","2"],"paddingInner":0,"paddingOuter":0},"axis":null}}},
    {"data":{"values":[{}]},"mark":{"type":"rule","strokeWidth":1.6,"color":"#777"},"encoding":{"x2":{"datum":1},"y":{"datum":"2","type":"nominal","bandPosition":1,"scale":{"type":"band","domain":["h","1","2"],"paddingInner":0,"paddingOuter":0},"axis":null}}},
    {"transform":[{"filter":"datum.r=='h'"}],"mark":{"type":"text","align":"left","dx":7,"fontSize":7.5,"fontWeight":"bold"},"encoding":{"y":{"field":"r","type":"nominal","scale":{"type":"band","domain":["h","1","2"],"paddingInner":0,"paddingOuter":0},"axis":null},"text":{"field":"t"}}},
    {"transform":[{"filter":"datum.r!='h'"}],"mark":{"type":"text","align":"left","dx":7,"fontSize":7.5},"encoding":{"y":{"field":"r","type":"nominal","scale":{"type":"band","domain":["h","1","2"],"paddingInner":0,"paddingOuter":0},"axis":null},"text":{"field":"t"}}}
   ]},
   {"width":41,"height":42,"transform":[{"filter":"datum.c==6"}],"encoding":{"x":{"datum":0,"type":"quantitative","scale":{"domain":[0,1]},"axis":null}},"layer":[
    {"data":{"values":[{}]},"mark":{"type":"rule","strokeWidth":1.6,"color":"#777"},"encoding":{"x2":{"datum":1},"y":{"datum":"h","type":"nominal","bandPosition":0,"scale":{"type":"band","domain":["h","1","2"],"paddingInner":0,"paddingOuter":0},"axis":null}}},
    {"data":{"values":[{}]},"mark":{"type":"rule","strokeWidth":0.8,"color":"#999"},"encoding":{"x2":{"datum":1},"y":{"datum":"1","type":"nominal","bandPosition":0,"scale":{"type":"band","domain":["h","1","2"],"paddingInner":0,"paddingOuter":0},"axis":null}}},
    {"data":{"values":[{}]},"mark":{"type":"rule","strokeWidth":1.6,"color":"#777"},"encoding":{"x2":{"datum":1},"y":{"datum":"2","type":"nominal","bandPosition":1,"scale":{"type":"band","domain":["h","1","2"],"paddingInner":0,"paddingOuter":0},"axis":null}}},
    {"transform":[{"filter":"datum.r=='h'"}],"mark":{"type":"text","align":"left","dx":7,"fontSize":7.5,"fontWeight":"bold"},"encoding":{"y":{"field":"r","type":"nominal","scale":{"type":"band","domain":["h","1","2"],"paddingInner":0,"paddingOuter":0},"axis":null},"text":{"field":"t"}}},
    {"transform":[{"filter":"datum.r!='h'"}],"mark":{"type":"text","align":"left","dx":7,"fontSize":7.5},"encoding":{"y":{"field":"r","type":"nominal","scale":{"type":"band","domain":["h","1","2"],"paddingInner":0,"paddingOuter":0},"axis":null},"text":{"field":"t"}}}
   ]},
   {"width":46,"height":42,"transform":[{"filter":"datum.c==7"}],"encoding":{"x":{"datum":0,"type":"quantitative","scale":{"domain":[0,1]},"axis":null}},"layer":[
    {"data":{"values":[{}]},"mark":{"type":"rule","strokeWidth":1.6,"color":"#777"},"encoding":{"x2":{"datum":1},"y":{"datum":"h","type":"nominal","bandPosition":0,"scale":{"type":"band","domain":["h","1","2"],"paddingInner":0,"paddingOuter":0},"axis":null}}},
    {"data":{"values":[{}]},"mark":{"type":"rule","strokeWidth":0.8,"color":"#999"},"encoding":{"x2":{"datum":1},"y":{"datum":"1","type":"nominal","bandPosition":0,"scale":{"type":"band","domain":["h","1","2"],"paddingInner":0,"paddingOuter":0},"axis":null}}},
    {"data":{"values":[{}]},"mark":{"type":"rule","strokeWidth":1.6,"color":"#777"},"encoding":{"x2":{"datum":1},"y":{"datum":"2","type":"nominal","bandPosition":1,"scale":{"type":"band","domain":["h","1","2"],"paddingInner":0,"paddingOuter":0},"axis":null}}},
    {"transform":[{"filter":"datum.r=='h'"}],"mark":{"type":"text","align":"left","dx":7,"fontSize":7.5,"fontWeight":"bold"},"encoding":{"y":{"field":"r","type":"nominal","scale":{"type":"band","domain":["h","1","2"],"paddingInner":0,"paddingOuter":0},"axis":null},"text":{"field":"t"}}},
    {"transform":[{"filter":"datum.r!='h'"}],"mark":{"type":"text","align":"left","dx":7,"fontSize":7.5},"encoding":{"y":{"field":"r","type":"nominal","scale":{"type":"band","domain":["h","1","2"],"paddingInner":0,"paddingOuter":0},"axis":null},"text":{"field":"t"}}}
   ]},
   {"width":42,"height":42,"transform":[{"filter":"datum.c==8"}],"encoding":{"x":{"datum":0,"type":"quantitative","scale":{"domain":[0,1]},"axis":null}},"layer":[
    {"data":{"values":[{}]},"mark":{"type":"rule","strokeWidth":1.6,"color":"#777"},"encoding":{"x2":{"datum":1},"y":{"datum":"h","type":"nominal","bandPosition":0,"scale":{"type":"band","domain":["h","1","2"],"paddingInner":0,"paddingOuter":0},"axis":null}}},
    {"data":{"values":[{}]},"mark":{"type":"rule","strokeWidth":0.8,"color":"#999"},"encoding":{"x2":{"datum":1},"y":{"datum":"1","type":"nominal","bandPosition":0,"scale":{"type":"band","domain":["h","1","2"],"paddingInner":0,"paddingOuter":0},"axis":null}}},
    {"data":{"values":[{}]},"mark":{"type":"rule","strokeWidth":1.6,"color":"#777"},"encoding":{"x2":{"datum":1},"y":{"datum":"2","type":"nominal","bandPosition":1,"scale":{"type":"band","domain":["h","1","2"],"paddingInner":0,"paddingOuter":0},"axis":null}}},
    {"transform":[{"filter":"datum.r=='h'"}],"mark":{"type":"text","align":"left","dx":7,"fontSize":7.5,"fontWeight":"bold"},"encoding":{"y":{"field":"r","type":"nominal","scale":{"type":"band","domain":["h","1","2"],"paddingInner":0,"paddingOuter":0},"axis":null},"text":{"field":"t"}}},
    {"transform":[{"filter":"datum.r!='h'"}],"mark":{"type":"text","align":"left","dx":7,"fontSize":7.5},"encoding":{"y":{"field":"r","type":"nominal","scale":{"type":"band","domain":["h","1","2"],"paddingInner":0,"paddingOuter":0},"axis":null},"text":{"field":"t"}}}
   ]},
   {"width":32,"height":42,"transform":[{"filter":"datum.c==9"}],"encoding":{"x":{"datum":0,"type":"quantitative","scale":{"domain":[0,1]},"axis":null}},"layer":[
    {"data":{"values":[{}]},"mark":{"type":"rule","strokeWidth":1.6,"color":"#777"},"encoding":{"x2":{"datum":1},"y":{"datum":"h","type":"nominal","bandPosition":0,"scale":{"type":"band","domain":["h","1","2"],"paddingInner":0,"paddingOuter":0},"axis":null}}},
    {"data":{"values":[{}]},"mark":{"type":"rule","strokeWidth":0.8,"color":"#999"},"encoding":{"x2":{"datum":1},"y":{"datum":"1","type":"nominal","bandPosition":0,"scale":{"type":"band","domain":["h","1","2"],"paddingInner":0,"paddingOuter":0},"axis":null}}},
    {"data":{"values":[{}]},"mark":{"type":"rule","strokeWidth":1.6,"color":"#777"},"encoding":{"x2":{"datum":1},"y":{"datum":"2","type":"nominal","bandPosition":1,"scale":{"type":"band","domain":["h","1","2"],"paddingInner":0,"paddingOuter":0},"axis":null}}},
    {"transform":[{"filter":"datum.r=='h'"}],"mark":{"type":"text","align":"left","dx":7,"fontSize":7.5,"fontWeight":"bold"},"encoding":{"y":{"field":"r","type":"nominal","scale":{"type":"band","domain":["h","1","2"],"paddingInner":0,"paddingOuter":0},"axis":null},"text":{"field":"t"}}},
    {"transform":[{"filter":"datum.r!='h'"}],"mark":{"type":"text","align":"left","dx":7,"fontSize":7.5},"encoding":{"y":{"field":"r","type":"nominal","scale":{"type":"band","domain":["h","1","2"],"paddingInner":0,"paddingOuter":0},"axis":null},"text":{"field":"t"}}}
   ]},
   {"width":55,"height":42,"transform":[{"filter":"datum.c==10"}],"encoding":{"x":{"datum":0,"type":"quantitative","scale":{"domain":[0,1]},"axis":null}},"layer":[
    {"data":{"values":[{}]},"mark":{"type":"rule","strokeWidth":1.6,"color":"#777"},"encoding":{"x2":{"datum":1},"y":{"datum":"h","type":"nominal","bandPosition":0,"scale":{"type":"band","domain":["h","1","2"],"paddingInner":0,"paddingOuter":0},"axis":null}}},
    {"data":{"values":[{}]},"mark":{"type":"rule","strokeWidth":0.8,"color":"#999"},"encoding":{"x2":{"datum":1},"y":{"datum":"1","type":"nominal","bandPosition":0,"scale":{"type":"band","domain":["h","1","2"],"paddingInner":0,"paddingOuter":0},"axis":null}}},
    {"data":{"values":[{}]},"mark":{"type":"rule","strokeWidth":1.6,"color":"#777"},"encoding":{"x2":{"datum":1},"y":{"datum":"2","type":"nominal","bandPosition":1,"scale":{"type":"band","domain":["h","1","2"],"paddingInner":0,"paddingOuter":0},"axis":null}}},
    {"transform":[{"filter":"datum.r=='h'"}],"mark":{"type":"text","align":"left","dx":7,"fontSize":7.5,"fontWeight":"bold"},"encoding":{"y":{"field":"r","type":"nominal","scale":{"type":"band","domain":["h","1","2"],"paddingInner":0,"paddingOuter":0},"axis":null},"text":{"field":"t"}}},
    {"transform":[{"filter":"datum.r!='h'"}],"mark":{"type":"text","align":"left","dx":7,"fontSize":7.5},"encoding":{"y":{"field":"r","type":"nominal","scale":{"type":"band","domain":["h","1","2"],"paddingInner":0,"paddingOuter":0},"axis":null},"text":{"field":"t"}}}
   ]},
   {"width":46,"height":42,"transform":[{"filter":"datum.c==11"}],"encoding":{"x":{"datum":0,"type":"quantitative","scale":{"domain":[0,1]},"axis":null}},"layer":[
    {"data":{"values":[{}]},"mark":{"type":"rule","strokeWidth":1.6,"color":"#777"},"encoding":{"x2":{"datum":1},"y":{"datum":"h","type":"nominal","bandPosition":0,"scale":{"type":"band","domain":["h","1","2"],"paddingInner":0,"paddingOuter":0},"axis":null}}},
    {"data":{"values":[{}]},"mark":{"type":"rule","strokeWidth":0.8,"color":"#999"},"encoding":{"x2":{"datum":1},"y":{"datum":"1","type":"nominal","bandPosition":0,"scale":{"type":"band","domain":["h","1","2"],"paddingInner":0,"paddingOuter":0},"axis":null}}},
    {"data":{"values":[{}]},"mark":{"type":"rule","strokeWidth":1.6,"color":"#777"},"encoding":{"x2":{"datum":1},"y":{"datum":"2","type":"nominal","bandPosition":1,"scale":{"type":"band","domain":["h","1","2"],"paddingInner":0,"paddingOuter":0},"axis":null}}},
    {"transform":[{"filter":"datum.r=='h'"}],"mark":{"type":"text","align":"left","dx":7,"fontSize":7.5,"fontWeight":"bold"},"encoding":{"y":{"field":"r","type":"nominal","scale":{"type":"band","domain":["h","1","2"],"paddingInner":0,"paddingOuter":0},"axis":null},"text":{"field":"t"}}},
    {"transform":[{"filter":"datum.r!='h'"}],"mark":{"type":"text","align":"left","dx":7,"fontSize":7.5},"encoding":{"y":{"field":"r","type":"nominal","scale":{"type":"band","domain":["h","1","2"],"paddingInner":0,"paddingOuter":0},"axis":null},"text":{"field":"t"}}}
   ]},
   {"width":52,"height":42,"transform":[{"filter":"datum.c==12"}],"encoding":{"x":{"datum":0,"type":"quantitative","scale":{"domain":[0,1]},"axis":null}},"layer":[
    {"data":{"values":[{}]},"mark":{"type":"rule","strokeWidth":1.6,"color":"#777"},"encoding":{"x2":{"datum":1},"y":{"datum":"h","type":"nominal","bandPosition":0,"scale":{"type":"band","domain":["h","1","2"],"paddingInner":0,"paddingOuter":0},"axis":null}}},
    {"data":{"values":[{}]},"mark":{"type":"rule","strokeWidth":0.8,"color":"#999"},"encoding":{"x2":{"datum":1},"y":{"datum":"1","type":"nominal","bandPosition":0,"scale":{"type":"band","domain":["h","1","2"],"paddingInner":0,"paddingOuter":0},"axis":null}}},
    {"data":{"values":[{}]},"mark":{"type":"rule","strokeWidth":1.6,"color":"#777"},"encoding":{"x2":{"datum":1},"y":{"datum":"2","type":"nominal","bandPosition":1,"scale":{"type":"band","domain":["h","1","2"],"paddingInner":0,"paddingOuter":0},"axis":null}}},
    {"transform":[{"filter":"datum.r=='h'"}],"mark":{"type":"text","align":"left","dx":7,"fontSize":7.5,"fontWeight":"bold"},"encoding":{"y":{"field":"r","type":"nominal","scale":{"type":"band","domain":["h","1","2"],"paddingInner":0,"paddingOuter":0},"axis":null},"text":{"field":"t"}}},
    {"transform":[{"filter":"datum.r!='h'"}],"mark":{"type":"text","align":"left","dx":7,"fontSize":7.5},"encoding":{"y":{"field":"r","type":"nominal","scale":{"type":"band","domain":["h","1","2"],"paddingInner":0,"paddingOuter":0},"axis":null},"text":{"field":"t"}}}
   ]},
   {"width":34,"height":42,"transform":[{"filter":"datum.c==13"}],"encoding":{"x":{"datum":0,"type":"quantitative","scale":{"domain":[0,1]},"axis":null}},"layer":[
    {"data":{"values":[{}]},"mark":{"type":"rule","strokeWidth":1.6,"color":"#777"},"encoding":{"x2":{"datum":1},"y":{"datum":"h","type":"nominal","bandPosition":0,"scale":{"type":"band","domain":["h","1","2"],"paddingInner":0,"paddingOuter":0},"axis":null}}},
    {"data":{"values":[{}]},"mark":{"type":"rule","strokeWidth":0.8,"color":"#999"},"encoding":{"x2":{"datum":1},"y":{"datum":"1","type":"nominal","bandPosition":0,"scale":{"type":"band","domain":["h","1","2"],"paddingInner":0,"paddingOuter":0},"axis":null}}},
    {"data":{"values":[{}]},"mark":{"type":"rule","strokeWidth":1.6,"color":"#777"},"encoding":{"x2":{"datum":1},"y":{"datum":"2","type":"nominal","bandPosition":1,"scale":{"type":"band","domain":["h","1","2"],"paddingInner":0,"paddingOuter":0},"axis":null}}},
    {"transform":[{"filter":"datum.r=='h'"}],"mark":{"type":"text","align":"left","dx":7,"fontSize":7.5,"fontWeight":"bold"},"encoding":{"y":{"field":"r","type":"nominal","scale":{"type":"band","domain":["h","1","2"],"paddingInner":0,"paddingOuter":0},"axis":null},"text":{"field":"t"}}},
    {"transform":[{"filter":"datum.r!='h'"}],"mark":{"type":"text","align":"left","dx":7,"fontSize":7.5},"encoding":{"y":{"field":"r","type":"nominal","scale":{"type":"band","domain":["h","1","2"],"paddingInner":0,"paddingOuter":0},"axis":null},"text":{"field":"t"}}}
   ]}
  ]},
  {"hconcat":[
   {"width":128,"height":64,"view":{"fill":"white"},"data":{"values":[]},"mark":"point"},
   {"width":525,"height":64,"data":{"values":[
    {"i":1,"t":"Y-axis in panel (B) referred as to \"Methylated cytosines (%)\" represents the average level of methylation for each DNA sample in the pyrosequencing analysis."},
    {"i":2,"t":"1. EWAS based on on the KoreaN cohort study for Outcome in patients With Chronic Kidney Disease (KNOW-CKD) cohort study"},
    {"i":3,"t":"2. DNA methylation analysis by pyrosequencing as replication using linear regression based on the  CKD patients proven by biopsy in Seoul National University"},
    {"i":4,"t":"Hospital Human Biobank"},
    {"i":5,"t":"3. Fixed-effects of meta-analysis between discovery and replication data"},
    {"i":6,"t":"EWAS, epigenome-wide association study; SE, standard error; FDR, false discovery rate"}
   ]},"mark":{"type":"text","align":"left","dx":7,"fontSize":8.7},"encoding":{"x":{"datum":0,"type":"quantitative","scale":{"domain":[0,1]},"axis":null},"y":{"field":"i","type":"ordinal","scale":{"type":"band","paddingInner":0,"paddingOuter":0},"axis":null},"text":{"field":"t"}}}
  ],"spacing":0,"bounds":"flush"}
 ]}
 ]}
]
}
